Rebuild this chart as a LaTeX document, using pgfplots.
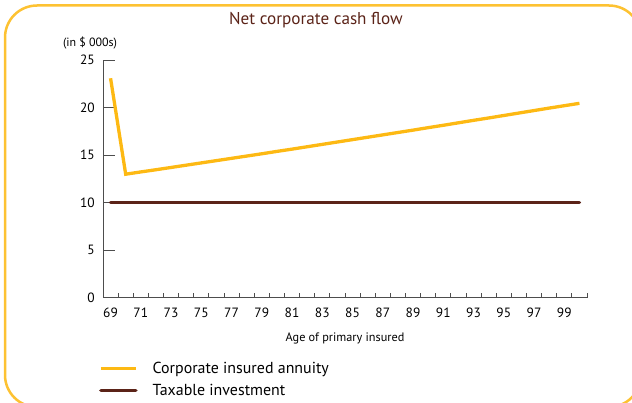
\documentclass[border=0pt]{standalone}
\usepackage{pgfplots}
\pgfplotsset{compat=1.18}
\usepackage{fontspec}
\setmainfont{PT Sans}
\definecolor{cyel}{HTML}{FDB913}
\definecolor{cframe}{HTML}{FDC232}
\definecolor{cbrown}{HTML}{5B2318}
\definecolor{caxis}{HTML}{4D4D4D}
\begin{document}
\begin{tikzpicture}[x=1bp,y=1bp]
\useasboundingbox (0,0) rectangle (632,402);
\begin{scope}
\clip (0,0) rectangle (632,402);
\draw[cframe, line width=2.5bp, rounded corners=32bp] (5,396.5) rectangle (641,-5);
\end{scope}
\begin{axis}[
  at={(103bp,104.3bp)}, anchor=south west,
  scale only axis, width=484bp, height=237.5bp,
  xmin=68.5, xmax=100.5, ymin=0, ymax=25,
  axis x line*=bottom, axis y line*=left,
  axis line style={caxis, line width=0.9bp, -},
  xtick={69,71,...,99},
  major x tick style={draw=none},
  minor xtick={69.5,70.5,...,100.5},
  minor tick length=5bp,
  minor x tick style={caxis, line width=0.8bp},
  ytick={0,5,...,25},
  major tick length=12bp,
  y tick style={caxis, line width=0.9bp},
  tick align=inside,
  /pgf/number format/assume math mode=true,
  ticklabel style={font=\fontsize{13.5}{13.5}\selectfont, inner sep=0pt},
  yticklabel style={anchor=east, xshift=-8bp},
  xticklabel style={anchor=north, yshift=-10bp},
  xlabel={Age of primary insured},
  xlabel style={at={(axis description cs:0.5,0)}, anchor=base, yshift=-43.3bp, inner sep=0pt, font=\fontsize{12.3}{12.3}\selectfont},
  ylabel={(in \$ 000s)},
  ylabel style={rotate=-90, at={(axis description cs:0,1)}, anchor=base, xshift=-13bp, yshift=13.5bp, inner sep=0pt, font=\fontsize{12}{12}\selectfont},
  title={Net corporate cash flow},
  title style={at={(axis description cs:0.44,1)}, anchor=base, yshift=29.5bp, inner sep=0pt, text=cbrown, font=\fontsize{17.2}{17.2}\selectfont},
  legend style={at={(axis description cs:-0.008,-0.272)}, anchor=north west, draw=none, fill=none, inner sep=0pt, outer sep=0pt, row sep=8.8bp, column sep=15bp, font=\fontsize{16}{16}\selectfont, nodes={inner sep=0pt}},
  legend cell align=left,
  legend image code/.code={\draw[#1] (0bp,0bp) -- (35bp,0bp);},
  clip=false,
]
\addplot[cyel, line width=3.3bp, no markers] coordinates {
(69,23.1) (70,13.00) (71,13.24) (72,13.47) (73,13.71) (74,13.95) (75,14.19) (76,14.43) (77,14.67) (78,14.91) (79,15.15) (80,15.40) (81,15.64) (82,15.89) (83,16.14) (84,16.39) (85,16.64) (86,16.89) (87,17.14) (88,17.39) (89,17.64) (90,17.90) (91,18.15) (92,18.41) (93,18.67) (94,18.92) (95,19.18) (96,19.44) (97,19.70) (98,19.96) (99,20.21) (100,20.46)
};
\addlegendentry{Corporate insured annuity}
\addplot[cbrown, line width=3.5bp, no markers, line cap=round] coordinates {
(69,10) (70,10) (75,10) (80,10) (85,10) (90,10) (95,10) (100,10)
};
\addlegendentry{Taxable investment}
\end{axis}
\end{tikzpicture}
\end{document}
